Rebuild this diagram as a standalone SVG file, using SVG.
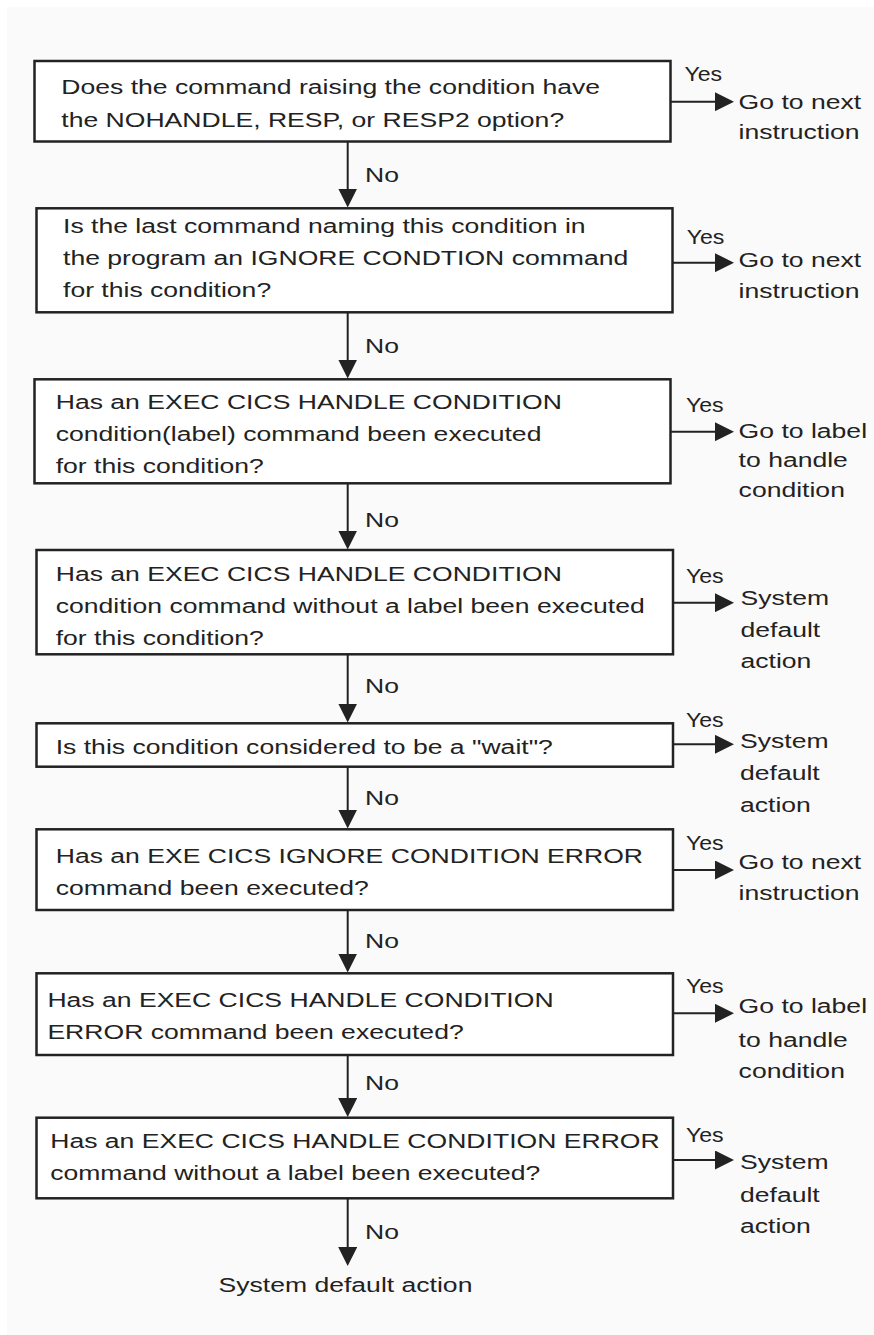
<svg xmlns="http://www.w3.org/2000/svg" width="874" height="1335" viewBox="0 0 874 1335">
  <style>
    .box { fill: #ffffff; stroke: #222222; stroke-width: 2.5; }
    .t { font-family: "Liberation Sans", Arial, sans-serif; font-size: 21px; fill: #222222; }
    .wire { fill: none; stroke: #222222; stroke-width: 2; }
  </style>
  <defs>
    <marker id="head" viewBox="0 0 19 19" markerWidth="19" markerHeight="19" markerUnits="userSpaceOnUse" refX="11" refY="9.5" orient="auto">
      <path d="M0,0 L19,9.5 L0,19 z" fill="#222222"/>
    </marker>
  </defs>

  <!-- page -->
  <rect x="0" y="0" width="874" height="1335" fill="#ffffff"/>
  <rect x="7" y="7" width="867" height="1328" fill="#fafafa"/>

  <!-- decisions -->
  <g id="q1">
    <rect class="box" x="34.5" y="61" width="636" height="80.5"/>
    <text class="t" transform="translate(61.3 94) scale(1.265 1)">Does the command raising the condition have</text>
    <text class="t" transform="translate(61.3 126.7) scale(1.265 1)">the NOHANDLE, RESP, or RESP2 option?</text>
  </g>
  <g id="q2">
    <rect class="box" x="36.5" y="208.3" width="636" height="104"/>
    <text class="t" transform="translate(63 233.3) scale(1.265 1)">Is the last command naming this condition in</text>
    <text class="t" transform="translate(63 265) scale(1.265 1)">the program an IGNORE CONDTION command</text>
    <text class="t" transform="translate(63 296.5) scale(1.265 1)">for this condition?</text>
  </g>
  <g id="q3">
    <rect class="box" x="34.5" y="379.3" width="636" height="104"/>
    <text class="t" transform="translate(55.7 409) scale(1.265 1)">Has an EXEC CICS HANDLE CONDITION</text>
    <text class="t" transform="translate(55.7 441) scale(1.265 1)">condition(label) command been executed</text>
    <text class="t" transform="translate(55.7 473) scale(1.265 1)">for this condition?</text>
  </g>
  <g id="q4">
    <rect class="box" x="36.5" y="550" width="636.5" height="104.3"/>
    <text class="t" transform="translate(55.7 580.7) scale(1.265 1)">Has an EXEC CICS HANDLE CONDITION</text>
    <text class="t" transform="translate(55.7 613) scale(1.265 1)">condition command without a label been executed</text>
    <text class="t" transform="translate(55.7 645) scale(1.265 1)">for this condition?</text>
  </g>
  <g id="q5">
    <rect class="box" x="36.5" y="723.3" width="636.5" height="43.4"/>
    <text class="t" transform="translate(55.7 754) scale(1.265 1)">Is this condition considered to be a "wait"?</text>
  </g>
  <g id="q6">
    <rect class="box" x="36.5" y="829.3" width="636.5" height="80.7"/>
    <text class="t" transform="translate(55.7 863.3) scale(1.265 1)">Has an EXE CICS IGNORE CONDITION ERROR</text>
    <text class="t" transform="translate(55.7 895) scale(1.265 1)">command been executed?</text>
  </g>
  <g id="q7">
    <rect class="box" x="36.5" y="973.3" width="636.5" height="81.7"/>
    <text class="t" transform="translate(47.4 1006.7) scale(1.265 1)">Has an EXEC CICS HANDLE CONDITION</text>
    <text class="t" transform="translate(47.4 1039) scale(1.265 1)">ERROR command been executed?</text>
  </g>
  <g id="q8">
    <rect class="box" x="36.5" y="1117.7" width="636.5" height="80.6"/>
    <text class="t" transform="translate(50.2 1148.3) scale(1.265 1)">Has an EXEC CICS HANDLE CONDITION ERROR</text>
    <text class="t" transform="translate(50.2 1180) scale(1.265 1)">command without a label been executed?</text>
  </g>

  <!-- outcomes -->
  <g id="r1">
    <text class="t" transform="translate(738.6 109) scale(1.265 1)">Go to next</text>
    <text class="t" transform="translate(738.6 139.3) scale(1.265 1)">instruction</text>
  </g>
  <g id="r2">
    <text class="t" transform="translate(738.6 267.3) scale(1.265 1)">Go to next</text>
    <text class="t" transform="translate(738.6 298) scale(1.265 1)">instruction</text>
  </g>
  <g id="r3">
    <text class="t" transform="translate(738.6 438.3) scale(1.265 1)">Go to label</text>
    <text class="t" transform="translate(738.6 466.7) scale(1.265 1)">to handle</text>
    <text class="t" transform="translate(738.6 496.7) scale(1.265 1)">condition</text>
  </g>
  <g id="r4">
    <text class="t" transform="translate(740.5 605) scale(1.265 1)">System</text>
    <text class="t" transform="translate(740.5 636.7) scale(1.265 1)">default</text>
    <text class="t" transform="translate(740.5 668.3) scale(1.265 1)">action</text>
  </g>
  <g id="r5">
    <text class="t" transform="translate(740 748.3) scale(1.265 1)">System</text>
    <text class="t" transform="translate(740 780) scale(1.265 1)">default</text>
    <text class="t" transform="translate(740 812.3) scale(1.265 1)">action</text>
  </g>
  <g id="r6">
    <text class="t" transform="translate(738.6 869.3) scale(1.265 1)">Go to next</text>
    <text class="t" transform="translate(738.6 900) scale(1.265 1)">instruction</text>
  </g>
  <g id="r7">
    <text class="t" transform="translate(738.6 1013.3) scale(1.265 1)">Go to label</text>
    <text class="t" transform="translate(738.6 1046.7) scale(1.265 1)">to handle</text>
    <text class="t" transform="translate(738.6 1077.5) scale(1.265 1)">condition</text>
  </g>
  <g id="r8">
    <text class="t" transform="translate(740 1169.3) scale(1.265 1)">System</text>
    <text class="t" transform="translate(740 1201.7) scale(1.265 1)">default</text>
    <text class="t" transform="translate(740 1233.3) scale(1.265 1)">action</text>
  </g>
  <g id="end">
    <text class="t" transform="translate(218.5 1291.7) scale(1.265 1)">System default action</text>
  </g>

  <!-- connectors -->
  <g id="connectors">
    <!-- No branches -->
    <line class="wire" x1="347.7" y1="141.5" x2="347.7" y2="199.5" marker-end="url(#head)"/>
    <line class="wire" x1="347.7" y1="312.3" x2="347.7" y2="370.5" marker-end="url(#head)"/>
    <line class="wire" x1="347.7" y1="483.3" x2="347.7" y2="541.5" marker-end="url(#head)"/>
    <line class="wire" x1="347.7" y1="654.3" x2="347.7" y2="714.5" marker-end="url(#head)"/>
    <line class="wire" x1="347.7" y1="766.7" x2="347.7" y2="820.5" marker-end="url(#head)"/>
    <line class="wire" x1="347.7" y1="910" x2="347.7" y2="964.5" marker-end="url(#head)"/>
    <line class="wire" x1="347.7" y1="1055" x2="347.7" y2="1109" marker-end="url(#head)"/>
    <line class="wire" x1="347.7" y1="1198.3" x2="347.7" y2="1258" marker-end="url(#head)"/>
    <!-- Yes branches -->
    <line class="wire" x1="670.5" y1="101.7" x2="726" y2="101.7" marker-end="url(#head)"/>
    <line class="wire" x1="672.5" y1="262.7" x2="726" y2="262.7" marker-end="url(#head)"/>
    <line class="wire" x1="670.5" y1="431.7" x2="726" y2="431.7" marker-end="url(#head)"/>
    <line class="wire" x1="673" y1="602.7" x2="726" y2="602.7" marker-end="url(#head)"/>
    <line class="wire" x1="673" y1="744.3" x2="726" y2="744.3" marker-end="url(#head)"/>
    <line class="wire" x1="673" y1="870" x2="726" y2="870" marker-end="url(#head)"/>
    <line class="wire" x1="673" y1="1013.3" x2="726" y2="1013.3" marker-end="url(#head)"/>
    <line class="wire" x1="673" y1="1160" x2="726" y2="1160" marker-end="url(#head)"/>
    <!-- branch labels -->
    <text class="t" transform="translate(365 182) scale(1.265 1)">No</text>
    <text class="t" transform="translate(365 353.3) scale(1.265 1)">No</text>
    <text class="t" transform="translate(365 526.7) scale(1.265 1)">No</text>
    <text class="t" transform="translate(365 693.3) scale(1.265 1)">No</text>
    <text class="t" transform="translate(365 805) scale(1.265 1)">No</text>
    <text class="t" transform="translate(365 948.3) scale(1.265 1)">No</text>
    <text class="t" transform="translate(365 1090) scale(1.265 1)">No</text>
    <text class="t" transform="translate(365 1239) scale(1.265 1)">No</text>
    <text class="t" transform="translate(684.5 81) scale(1.1 1)">Yes</text>
    <text class="t" transform="translate(686.7 244) scale(1.1 1)">Yes</text>
    <text class="t" transform="translate(686 411.7) scale(1.1 1)">Yes</text>
    <text class="t" transform="translate(686 582.7) scale(1.1 1)">Yes</text>
    <text class="t" transform="translate(686 726.7) scale(1.1 1)">Yes</text>
    <text class="t" transform="translate(686 850) scale(1.1 1)">Yes</text>
    <text class="t" transform="translate(686 993.3) scale(1.1 1)">Yes</text>
    <text class="t" transform="translate(686 1141.7) scale(1.1 1)">Yes</text>
  </g>
</svg>
